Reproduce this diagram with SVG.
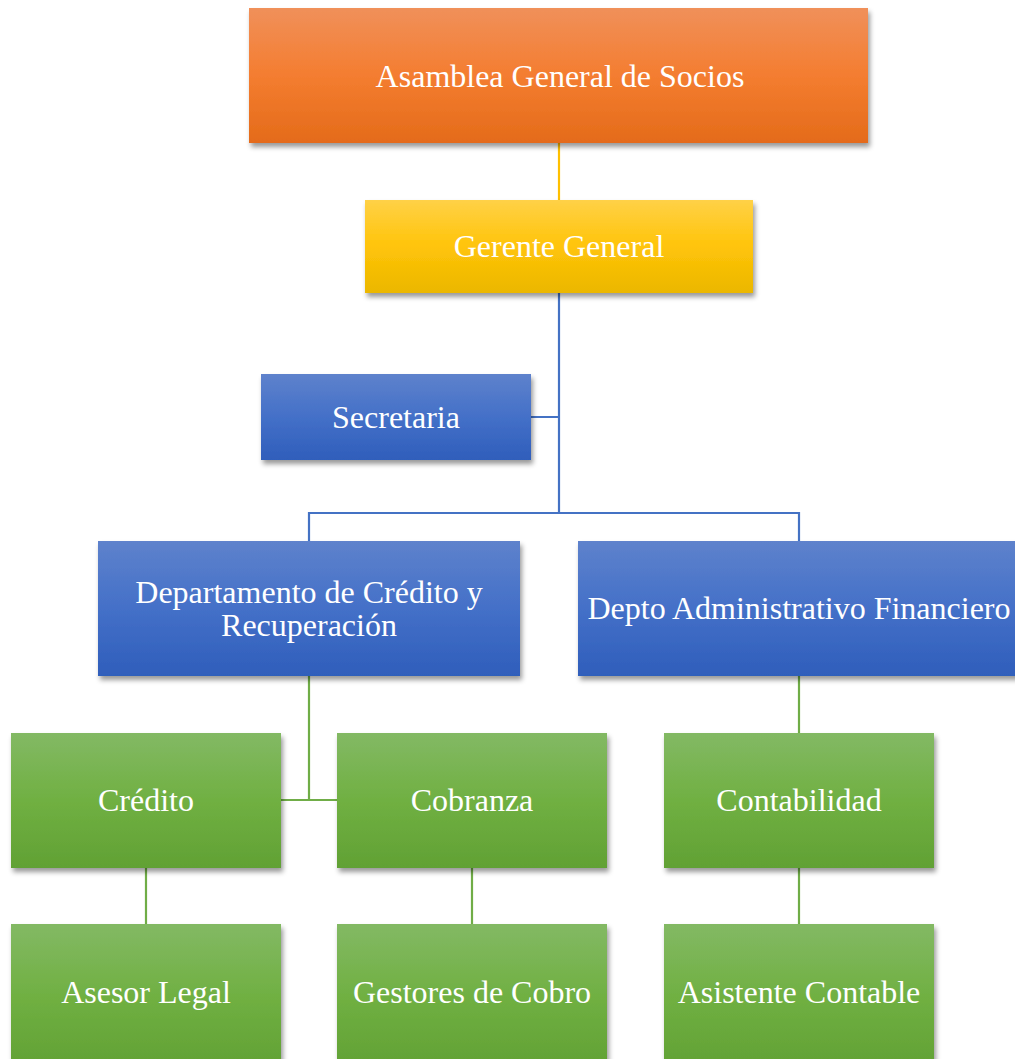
<svg xmlns="http://www.w3.org/2000/svg" width="1015" height="1059" viewBox="0 0 1015 1059">
<defs>
<linearGradient id="gO" x1="0" y1="0" x2="0" y2="1"><stop offset="0" stop-color="#F0905A"/><stop offset="0.5" stop-color="#F47D30"/><stop offset="1" stop-color="#E46B1A"/></linearGradient>
<linearGradient id="gY" x1="0" y1="0" x2="0" y2="1"><stop offset="0" stop-color="#FFD147"/><stop offset="0.5" stop-color="#FFC409"/><stop offset="1" stop-color="#EBB700"/></linearGradient>
<linearGradient id="gB" x1="0" y1="0" x2="0" y2="1"><stop offset="0" stop-color="#5E82CC"/><stop offset="0.5" stop-color="#4470C8"/><stop offset="1" stop-color="#2F5EBB"/></linearGradient>
<linearGradient id="gG" x1="0" y1="0" x2="0" y2="1"><stop offset="0" stop-color="#83B964"/><stop offset="0.5" stop-color="#70B042"/><stop offset="1" stop-color="#61A134"/></linearGradient>
<filter id="sh" x="-5%" y="-5%" width="115%" height="125%"><feDropShadow dx="2" dy="4" stdDeviation="2.5" flood-color="#000" flood-opacity="0.4"/></filter>
</defs>
<style>
text{font-family:"Liberation Serif","Times New Roman",serif;font-size:32px;fill:#fff;text-anchor:middle;}
.c{fill:none;stroke-width:2.2;}
.b{stroke:#4472C4}.y{stroke:#FFC000}.g{stroke:#70AD47}
rect{filter:url(#sh);}
</style>
<g id="connectors">
<path class="c y" d="M559 143V200"/>
<path class="c b" d="M559 293V513M531 417H559M309 541V513H799V541"/>
<path class="c g" d="M309 676V800M281 800H337M799 676V733M146 868V924M472 868V924M799 868V924"/>
</g>
<g id="asamblea"><rect x="249" y="8" width="619" height="135" fill="url(#gO)"/><text x="560" y="87">Asamblea General de Socios</text></g>
<g id="gerente"><rect x="365" y="200" width="388" height="93" fill="url(#gY)"/><text x="559" y="257">Gerente General</text></g>
<g id="secretaria"><rect x="261" y="374" width="270" height="86" fill="url(#gB)"/><text x="396" y="428">Secretaria</text></g>
<g id="depto-credito"><rect x="98" y="541" width="422" height="135" fill="url(#gB)"/><text x="309" y="603">Departamento de Crédito y</text><text x="309" y="636">Recuperación</text></g>
<g id="depto-admin"><rect x="578" y="541" width="445" height="135" fill="url(#gB)"/><text x="799" y="619">Depto Administrativo Financiero</text></g>
<g id="credito"><rect x="11" y="733" width="270" height="135" fill="url(#gG)"/><text x="146" y="811">Crédito</text></g>
<g id="cobranza"><rect x="337" y="733" width="270" height="135" fill="url(#gG)"/><text x="472" y="811">Cobranza</text></g>
<g id="contabilidad"><rect x="664" y="733" width="270" height="135" fill="url(#gG)"/><text x="799" y="811">Contabilidad</text></g>
<g id="asesor"><rect x="11" y="924" width="270" height="145" fill="url(#gG)"/><text x="146" y="1003">Asesor Legal</text></g>
<g id="gestores"><rect x="337" y="924" width="270" height="145" fill="url(#gG)"/><text x="472" y="1003">Gestores de Cobro</text></g>
<g id="asistente"><rect x="664" y="924" width="270" height="145" fill="url(#gG)"/><text x="799" y="1003">Asistente Contable</text></g>
</svg>
